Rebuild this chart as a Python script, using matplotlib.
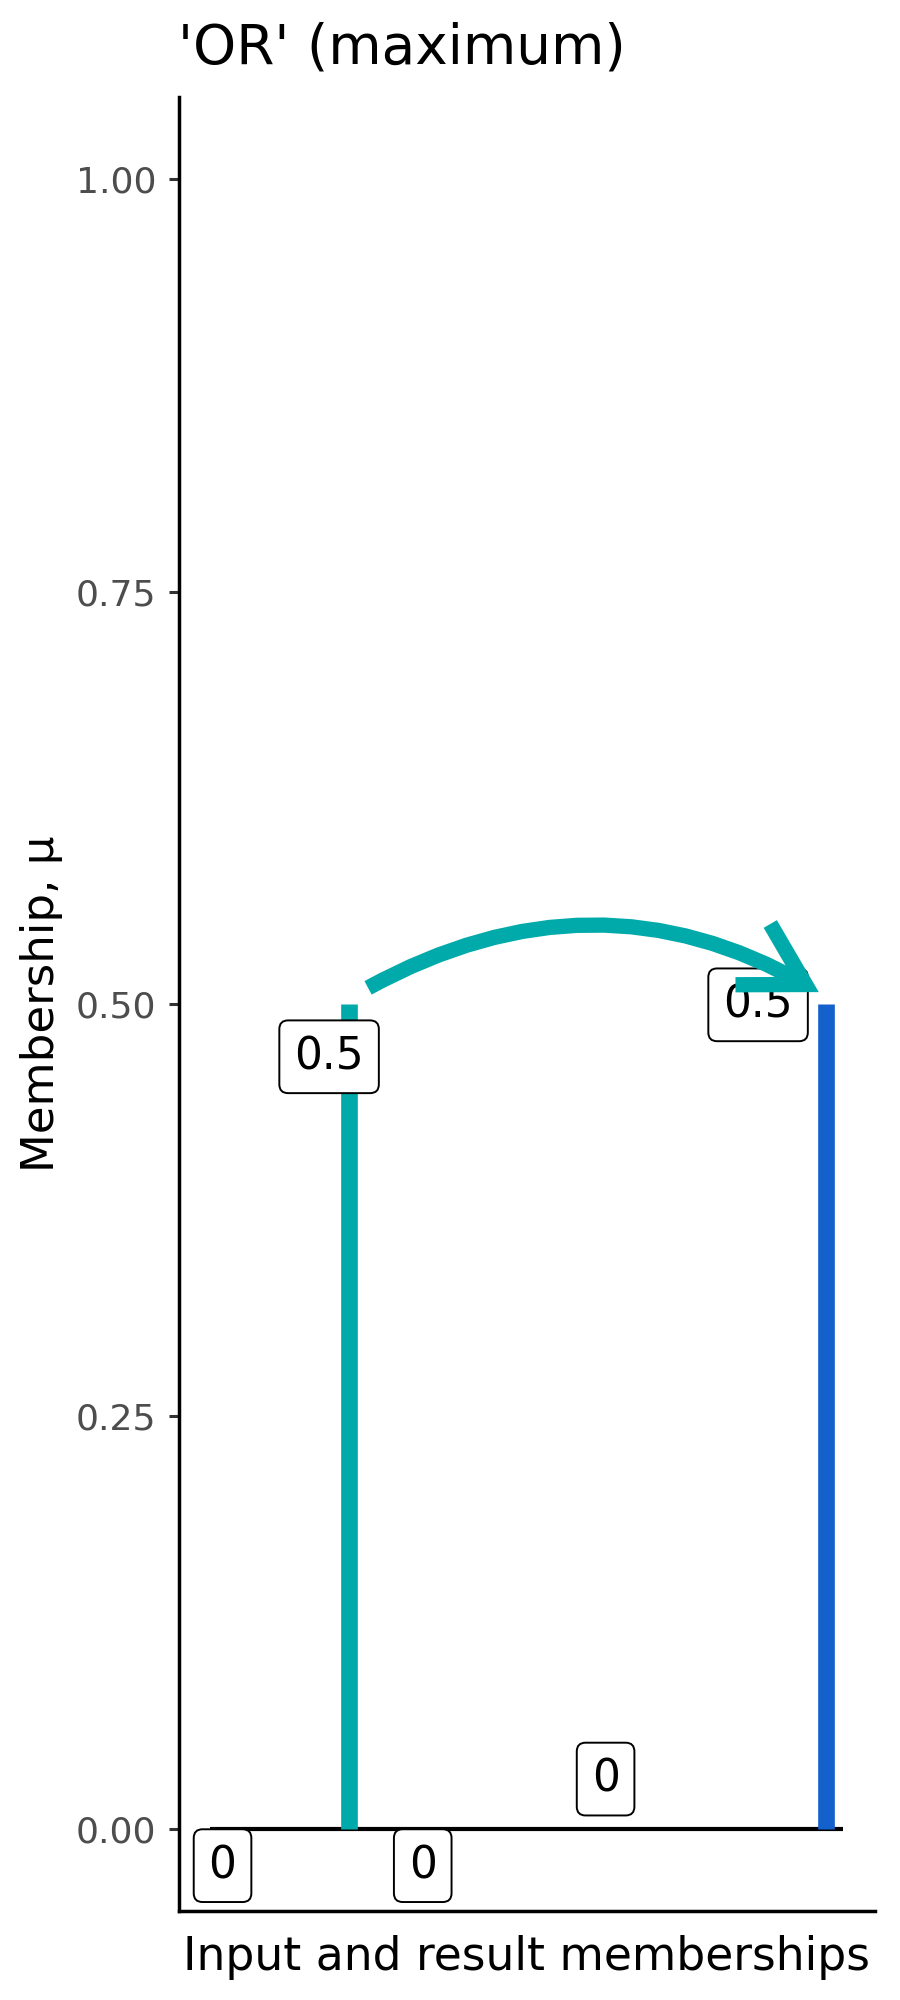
import matplotlib
matplotlib.use("Agg")
import matplotlib.pyplot as plt
from matplotlib.patches import FancyArrowPatch

# memberships (x position on the plot, membership value)
bar_x = [0.2195, 0.9735]
bar_mu = [0.5, 0.5]
bar_colors = ["#00AAAA", "#1460CC"]

# zero line under the memberships
base_x = [0.0, 1.0]
base_y = 0.0

# value labels
label_x = [0.0196, 0.336, 0.625, 0.188, 0.866]
label_y = [-0.0225, -0.0225, 0.030, 0.468, 0.4995]
label_text = ["0", "0", "0", "0.5", "0.5"]

# arrow from input to result
arrow_start = (0.2496, 0.5098)
arrow_end = (0.962, 0.5072)

y_ticks = [0.0, 0.25, 0.5, 0.75, 1.0]

fig = plt.figure(figsize=(9, 20), dpi=100)
ax = fig.add_axes([178.5 / 900, 1 - 1911 / 2000, 696 / 900, (1911 - 97) / 2000])

ax.hlines(base_y, base_x[0], base_x[1], color="black", linewidth=3.0, zorder=2)
ax.vlines(bar_x, 0, bar_mu, colors=bar_colors, linewidth=12.0, zorder=3)

for x, y, t in zip(label_x, label_y, label_text):
	ax.text(x, y, t, fontsize=31.5, ha="center", va="center", zorder=4,
		bbox=dict(boxstyle="round,pad=0.34,rounding_size=0.2", fc="white", ec="black", lw=1.4))

arrow = FancyArrowPatch(arrow_start, arrow_end, connectionstyle="arc3,rad=-0.28",
	arrowstyle="->,head_length=43.7,head_width=25.2", color=bar_colors[0],
	linewidth=11, joinstyle="miter", capstyle="butt", shrinkA=0, shrinkB=0,
	mutation_scale=1, zorder=5)
ax.add_patch(arrow)

ax.set_xlim(-0.05, 1.05)
ax.set_ylim(-0.05, 1.05)
ax.set_xticks([])
ax.set_yticks(y_ticks)
ax.set_yticklabels(["%.2f" % v for v in y_ticks])
ax.tick_params(axis="y", direction="out", length=7.2, width=2.2, color="#333333",
	pad=8.6, labelsize=26, labelcolor="#4D4D4D")

for s in ["top", "right"]:
	ax.spines[s].set_visible(False)
for s in ["left", "bottom"]:
	ax.spines[s].set_linewidth(2.5)
	ax.spines[s].set_color("black")

ax.set_ylabel("Membership, μ", fontsize=32.5, labelpad=9.3)
ax.set_xlabel("Input and result memberships", fontsize=32.9, labelpad=17)
ax.set_title("'OR' (maximum)", fontsize=39.5, loc="left", pad=24)

plt.savefig("out.png", dpi=100)
